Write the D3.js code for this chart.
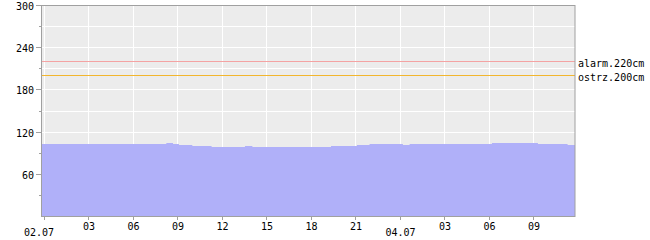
<!DOCTYPE html>
<html>
<head>
  <meta charset="utf-8">
  <script src="https://d3js.org/d3.v7.min.js"></script>
  <style>
    body { margin: 0; background: #fff; }
    svg { display: block; }
    text { font-family: "DejaVu Sans Mono", monospace; font-size: 10px; fill: #000; }
  </style>
</head>
<body>
<script>
  // water level readings: hours from the 02.07 tick, level in cm (step data)
  var hours  = [-0.15, 8.25, 8.7, 9.1, 10.0, 11.3, 13.55, 14.05, 19.35, 21.1, 21.95, 24.2, 24.65, 30.2, 33.3, 35.3, 35.8];
  var levels = [103,   104,  103, 101, 100,  98.5, 100,   98.5,  100,   101,  103,   101,  103,   104,  103,  101,  101];

  // x axis ticks (every 3 hours) and their labels
  var tickHours  = [0, 3, 6, 9, 12, 15, 18, 21, 24, 27, 30, 33];
  var tickLabels = ["02.07", "03", "06", "09", "12", "15", "18", "21", "04.07", "03", "06", "09"];

  // y axis
  var yTicks = [60, 120, 180, 240, 300];
  var yMinor = [30, 90, 150, 210, 270];

  // threshold lines
  var limitNames  = ["alarm.220cm", "ostrz.200cm"];
  var limitValues = [220, 200];
  var limitColors = ["#f4a3a3", "#f2b62e"];

  var width = 650, height = 240;
  // plot box (note: "top" is reserved on window, so keep these in an object)
  var box = {left: 41, right: 575, top: 5, bottom: 216};

  var svg = d3.select("body").append("svg")
    .attr("width", width)
    .attr("height", height);

  var x = d3.scaleLinear().domain([-0.2, 35.8]).range([box.left, box.right]);
  var y = d3.scaleLinear().domain([0, 300]).range([box.bottom, box.top]);

  function px(v) { return Math.round(v) + 0.5; }

  // plot background
  svg.append("rect")
    .attr("x", box.left).attr("y", box.top)
    .attr("width", box.right - box.left).attr("height", box.bottom - box.top)
    .style("fill", "#ececec");

  // white grid
  svg.selectAll(".hgrid")
    .data(yTicks.concat(yMinor))
    .enter().append("line")
      .attr("x1", box.left).attr("x2", box.right)
      .attr("y1", function (d) { return px(y(d)); })
      .attr("y2", function (d) { return px(y(d)); })
      .style("stroke", "#fff");

  svg.selectAll(".vgrid")
    .data(tickHours)
    .enter().append("line")
      .attr("x1", function (d) { return px(x(d)); })
      .attr("x2", function (d) { return px(x(d)); })
      .attr("y1", box.top).attr("y2", box.bottom)
      .style("stroke", "#fff");

  // level area
  var data = hours.map(function (h, i) { return {h: h, v: levels[i]}; });
  var area = d3.area()
    .curve(d3.curveStepAfter)
    .x(function (d) { return x(d.h); })
    .y0(box.bottom)
    .y1(function (d) { return Math.round(y(d.v)); });

  svg.append("path")
    .datum(data)
    .attr("d", area)
    .style("fill", "#b0b0f9");

  // threshold lines and labels
  limitValues.forEach(function (v, i) {
    svg.append("line")
      .attr("x1", box.left).attr("x2", box.right)
      .attr("y1", px(y(v))).attr("y2", px(y(v)))
      .style("stroke", limitColors[i]);
    svg.append("text")
      .attr("x", box.right + 3)
      .attr("y", px(y(v)) + 5.5)
      .text(limitNames[i]);
  });

  // frame
  svg.append("rect")
    .attr("x", box.left + 0.5).attr("y", box.top + 0.5)
    .attr("width", box.right - box.left - 0.5).attr("height", box.bottom - box.top)
    .style("fill", "none")
    .style("stroke", "#a0a0a0");

  // y ticks and labels
  svg.selectAll(".ytick")
    .data(yTicks)
    .enter().append("line")
      .attr("x1", box.left - 5).attr("x2", box.left)
      .attr("y1", function (d) { return px(y(d)); })
      .attr("y2", function (d) { return px(y(d)); })
      .style("stroke", "#a0a0a0");

  svg.selectAll(".yminor")
    .data(yMinor)
    .enter().append("line")
      .attr("x1", box.left - 2).attr("x2", box.left)
      .attr("y1", function (d) { return px(y(d)); })
      .attr("y2", function (d) { return px(y(d)); })
      .style("stroke", "#a0a0a0");

  svg.selectAll(".ylabel")
    .data(yTicks)
    .enter().append("text")
      .attr("x", 34)
      .attr("y", function (d) { return px(y(d)) + 4; })
      .attr("text-anchor", "end")
      .text(function (d) { return d; });

  // x ticks and labels (dates sit a little lower)
  svg.selectAll(".xtick")
    .data(tickHours)
    .enter().append("line")
      .attr("x1", function (d) { return px(x(d)); })
      .attr("x2", function (d) { return px(x(d)); })
      .attr("y1", box.bottom).attr("y2", box.bottom + 4)
      .style("stroke", "#a0a0a0");

  svg.selectAll(".xlabel")
    .data(tickHours)
    .enter().append("text")
      .attr("x", function (d, i) { return x(d) + (i === 0 ? -5 : 0.5); })
      .attr("y", function (d, i) { return tickLabels[i].length > 2 ? 235.5 : 229.5; })
      .attr("text-anchor", "middle")
      .text(function (d, i) { return tickLabels[i]; });
</script>
</body>
</html>
